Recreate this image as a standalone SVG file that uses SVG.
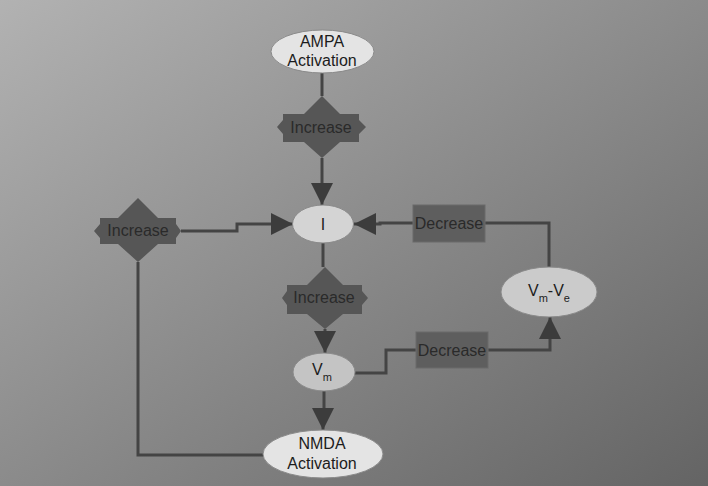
<svg xmlns="http://www.w3.org/2000/svg" width="708" height="486" viewBox="0 0 708 486">
<defs>
<linearGradient id="bg" x1="0" y1="0" x2="1" y2="1">
<stop offset="0" stop-color="#b2b2b2"/>
<stop offset="1" stop-color="#646464"/>
</linearGradient>
<marker id="ah" viewBox="0 0 10 10" refX="10" refY="5" markerWidth="22" markerHeight="22" markerUnits="userSpaceOnUse" orient="auto">
<path d="M0,0 L10,5 L0,10 Z" fill="#3c3c3c"/>
</marker>
<style>
.t{font-family:"Liberation Sans",Arial,sans-serif;font-size:16px;text-anchor:middle;fill:#1c1c1c}
.td{font-family:"Liberation Sans",Arial,sans-serif;font-size:16px;text-anchor:middle;fill:#2a2a2a}
.sub{font-size:11px}
.ell{stroke:#8a8a8a;stroke-width:1}
.dia{fill:#565656}
.rect{fill:#5e5e5e;stroke:#6a6a6a;stroke-width:1}
.c{fill:none;stroke:#444;stroke-width:3}
</style>
</defs>
<rect width="708" height="486" fill="url(#bg)"/>
<g id="connectors">
<path class="c" d="M322,73 L322,96"/>
<path class="c" d="M322,158 L322,205" marker-end="url(#ah)"/>
<path class="c" d="M181,231 L237,231 L237,224 L293,224" marker-end="url(#ah)"/>
<path class="c" d="M549,267 L549,223 L485,223"/>
<path class="c" d="M413,223 L380,223 L380,224 L354,224" marker-end="url(#ah)"/>
<path class="c" d="M323,243 L323,267"/>
<path class="c" d="M325,329 L325,353" marker-end="url(#ah)"/>
<path class="c" d="M355,373 L386,373 L386,350 L416,350"/>
<path class="c" d="M488,350 L550,350 L550,317" marker-end="url(#ah)"/>
<path class="c" d="M324,391 L324,411 L323,411 L323,430" marker-end="url(#ah)"/>
<path class="c" d="M138,262 L138,455 L263,455"/>
</g>
<g id="ampa">
<ellipse class="ell" cx="322.5" cy="51.5" rx="51.5" ry="21.5" fill="#e4e4e4"/>
<text class="t" x="322" y="47">AMPA</text>
<text class="t" x="322" y="66">Activation</text>
</g>
<g id="inc1">
<path class="dia" d="M322,96 L340,114 L359,114 L359,120 L366,127 L359,134 L359,142 L340,142 L322,158 L304,142 L283,142 L283,134 L277,127 L283,120 L283,114 L304,114 Z"/>
<text class="td" x="321" y="133">Increase</text>
</g>
<g id="inc2">
<path class="dia" d="M138,198 L158,218 L176,218 L176,224 L181,231 L176,238 L176,244 L158,244 L138,262 L118,244 L100,244 L100,238 L94,231 L100,224 L100,218 L118,218 Z"/>
<text class="td" x="138" y="236">Increase</text>
</g>
<g id="i">
<ellipse class="ell" cx="323" cy="224" rx="30.5" ry="19" fill="#d4d4d4"/>
<text class="t" x="323" y="230">I</text>
</g>
<g id="dec1">
<rect class="rect" x="413" y="205" width="72" height="37"/>
<text class="td" x="449" y="229">Decrease</text>
</g>
<g id="vmve">
<ellipse class="ell" cx="549" cy="292" rx="48" ry="25" fill="#cbcbcb"/>
<text class="t" x="549" y="296">V<tspan class="sub" dy="6">m</tspan><tspan dy="-6">-V</tspan><tspan class="sub" dy="6">e</tspan></text>
</g>
<g id="inc3">
<path class="dia" d="M325,267 L343,285 L362,285 L362,291 L368,298 L362,305 L362,314 L343,314 L325,329 L307,314 L287,314 L287,305 L282,298 L287,291 L287,285 L307,285 Z"/>
<text class="td" x="324" y="303">Increase</text>
</g>
<g id="vm">
<ellipse class="ell" cx="324" cy="372" rx="31" ry="19" fill="#c4c4c4"/>
<text class="t" x="322" y="375">V<tspan class="sub" dy="6">m</tspan></text>
</g>
<g id="dec2">
<rect class="rect" x="416" y="332" width="72" height="36"/>
<text class="td" x="452" y="356">Decrease</text>
</g>
<g id="nmda">
<ellipse class="ell" cx="323" cy="454" rx="60" ry="24" fill="#e4e4e4"/>
<text class="t" x="322" y="449">NMDA</text>
<text class="t" x="322" y="469">Activation</text>
</g>
</svg>
